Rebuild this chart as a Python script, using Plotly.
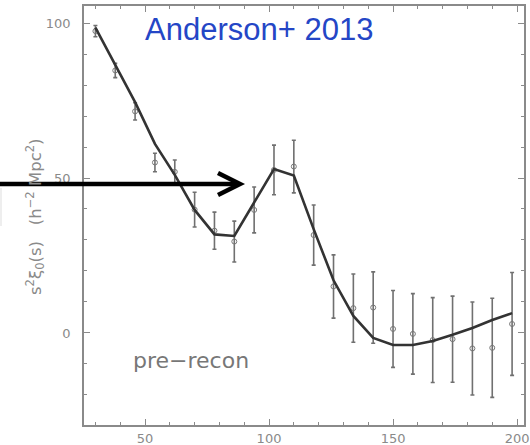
import plotly.graph_objects as go

# separation s [h^-1 Mpc]
s_bins = [30, 38, 46, 54, 62, 70, 78, 86, 94, 102, 110, 118, 126, 134, 142, 150,
          158, 166, 174, 182, 190, 198]
# measured s^2 xi_0(s)
xi_data = [97.4, 84.7, 71.5, 55.0, 52.0, 39.8, 33.0, 29.5, 39.7, 52.6, 53.7, 31.6,
           15.0, 8.0, 8.2, 1.3, -0.3, -2.3, -2.0, -5.0, -4.8, 2.9]
xi_err = [1.8, 2.3, 2.8, 3.0, 3.8, 5.6, 6.0, 6.6, 7.4, 8.0, 8.5, 9.7,
          10.2, 11.0, 11.5, 12.4, 13.0, 13.7, 13.9, 15.0, 16.0, 16.6]
# best-fit model
xi_model = [98.5, 86.5, 74.5, 61.0, 51.0, 39.7, 31.8, 31.3, 42.0, 52.9, 50.8, 33.5,
            17.0, 5.5, -1.6, -3.9, -3.9, -2.6, -0.6, 1.6, 4.2, 6.4]

x_ticks = [50, 100, 150, 200]
y_ticks = [0, 50, 100]
x_range = [25.4, 202.8]
y_range = [-29.7, 105.5]

W, H = 530, 445
L, R, T, B = 84, 6, 6, 20
PW, PH = W - L - R, H - T - B


def px(xp):
    return (xp - L) / PW


def py(yp):
    return (H - B - yp) / PH


GRAY = "#8a8a8a"

fig = go.Figure()
fig.add_trace(go.Scatter(
    x=s_bins, y=xi_data, mode="markers",
    marker=dict(symbol="circle-open", size=5, color="#777777", line=dict(width=1)),
    error_y=dict(type="data", array=xi_err, visible=True, color="#707070",
                 thickness=1.6, width=2),
    showlegend=False, hoverinfo="skip"))
fig.add_trace(go.Scatter(
    x=s_bins, y=xi_model, mode="lines",
    line=dict(color="#333333", width=2.6),
    showlegend=False, hoverinfo="skip"))
# invisible trace carrying the mirrored (top/right) tick axes
fig.add_trace(go.Scatter(
    x=s_bins, y=xi_model, mode="lines", xaxis="x2", yaxis="y2",
    line=dict(color="rgba(0,0,0,0)", width=0),
    showlegend=False, hoverinfo="skip"))

tick_common = dict(
    showgrid=False, zeroline=False, showline=True, linecolor=GRAY, linewidth=1.5,
    ticks="inside", ticklen=6, tickwidth=1.3, tickcolor=GRAY, automargin=False,
    minor=dict(ticks="inside", ticklen=3, tickwidth=1.2, tickcolor=GRAY, dtick=10,
               showgrid=False),
)
font_ticks = dict(family="DejaVu Sans", size=13, color=GRAY)

fig.update_layout(
    width=W, height=H,
    margin=dict(l=L, r=R, t=T, b=B, autoexpand=False),
    paper_bgcolor="white", plot_bgcolor="white",
    xaxis=dict(range=x_range, tickvals=x_ticks, ticktext=[str(v) for v in x_ticks],
               ticklabelstandoff=1, tickfont=font_ticks, **tick_common),
    yaxis=dict(range=y_range, tickvals=y_ticks, ticktext=[str(v) for v in y_ticks],
               ticklabelstandoff=9, tickfont=font_ticks, **tick_common),
    xaxis2=dict(range=x_range, overlaying="x", side="top", tickvals=x_ticks,
                showticklabels=False, **tick_common),
    yaxis2=dict(range=y_range, overlaying="y", side="right", tickvals=y_ticks,
                showticklabels=False, **tick_common),
)

fig.add_annotation(
    x=px(35), y=py(217), xref="paper", yref="paper", showarrow=False,
    xanchor="center", yanchor="middle",
    text="s<sup>2</sup>ξ<sub>0</sub>(s)\u00a0\u00a0 (h<sup>\u22122</sup> Mpc<sup>2</sup>)",
    textangle=-90, font=dict(family="DejaVu Sans", size=16.5, color=GRAY))
fig.add_annotation(
    x=px(259), y=py(29), xref="paper", yref="paper", showarrow=False,
    xanchor="center", yanchor="middle",
    text="Anderson+ 2013", font=dict(family="Liberation Sans", size=31, color="#2446c6"))
fig.add_annotation(
    x=px(191), y=py(360), xref="paper", yref="paper", showarrow=False,
    xanchor="center", yanchor="middle",
    text="pre\u2212recon", font=dict(family="DejaVu Sans", size=22, color="#777777"))

# arrow
fig.add_shape(type="line", xref="paper", yref="paper",
              x0=px(0), x1=px(236), y0=py(184), y1=py(184),
              line=dict(color="black", width=4.5))
fig.add_shape(type="path", xref="paper", yref="paper",
              path=f"M {px(218)} {py(173)} L {px(240)} {py(184)} L {px(218)} {py(195)}",
              line=dict(color="black", width=4.5))
# faint edge fragment
fig.add_shape(type="line", xref="paper", yref="paper",
              x0=px(1), x1=px(1), y0=py(188), y1=py(226),
              line=dict(color="#dddddd", width=1))

fig.write_html(
    "out.html",
    config={"displayModeBar": False},
    post_script="document.body.style.margin='0px';document.body.style.overflow='hidden';",
)
